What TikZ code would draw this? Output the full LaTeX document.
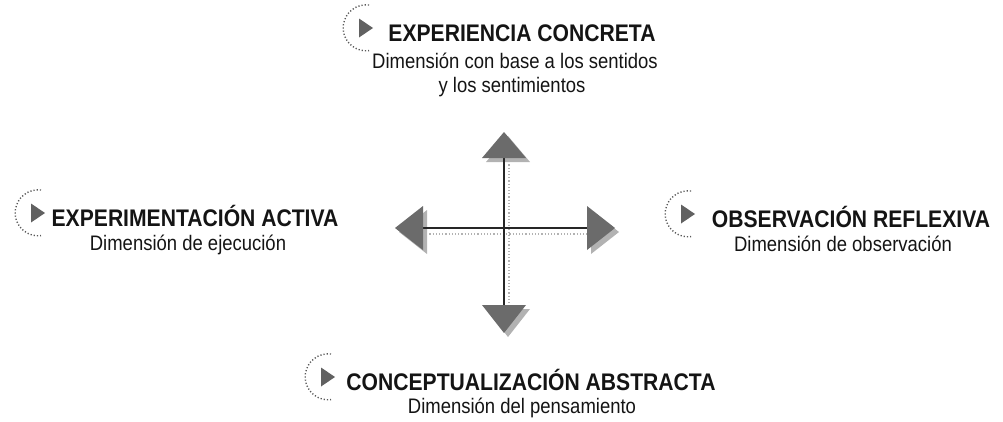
\documentclass[tikz,border=0pt]{standalone}
\usepackage{fontspec}
\setmainfont{Liberation Sans}
\newfontfamily\tfont{Liberation Sans}[FakeStretch=0.88]
\newfontfamily\sfont{Liberation Sans}[FakeStretch=0.88]
\definecolor{headgray}{gray}{0.42}
\definecolor{shadgray}{gray}{0.70}
\tikzset{
  ttl/.style={anchor=base, inner sep=0pt, font=\tfont\bfseries\fontsize{24}{28}\selectfont, text=black!92},
  sub/.style={anchor=base, inner sep=0pt, font=\sfont\fontsize{21}{25}\selectfont, text=black!92},
  axis/.style={draw=black!85, line width=1.1pt},
  shadowline/.style={draw=shadgray, line width=1.2pt, dotted},
  headfill/.style={fill=headgray},
  shadfill/.style={fill=shadgray},
  arcdots/.style={draw=black!65, line width=1.4pt, dash pattern=on 1.2pt off 2pt},
  tri/.style={fill=black!62}
}
\newcommand{\markicon}[2]{%
  \draw[arcdots] (#1+3,#2-23) arc[start angle=-83, end angle=-277, radius=23];
  \fill[tri] (#1-7,#2-9.5) -- (#1+7,#2) -- (#1-7,#2+9.5) -- cycle;
}
\begin{document}
\begin{tikzpicture}[x=1pt,y=-1pt]
\useasboundingbox (0,0) rectangle (1003,421);
% cross
\coordinate (c) at (504,228);
\coordinate (tT) at (504,132);
\coordinate (tB) at (504,333);
\coordinate (tL) at (395,228);
\coordinate (tR) at (615,228);
\coordinate (bT) at (504,158);
\coordinate (bB) at (504,305);
\coordinate (bL) at (423,228);
\coordinate (bR) at (587,228);
% shadows
\draw[shadowline] ([shift={(5,0)}]bT) -- ([shift={(5,0)}]bB);
\draw[shadowline] ([shift={(0,6)}]bL) -- ([shift={(0,6)}]bR);
\fill[shadfill] ([shift={(4,4)}]tT) -- ([shift={(-18,4)}]bT) -- ([shift={(26,4)}]bT) -- cycle;
\fill[shadfill] ([shift={(4,4)}]tB) -- ([shift={(-18,4)}]bB) -- ([shift={(26,4)}]bB) -- cycle;
\fill[shadfill] ([shift={(4,4)}]tL) -- ([shift={(4,-18)}]bL) -- ([shift={(4,26)}]bL) -- cycle;
\fill[shadfill] ([shift={(4,4)}]tR) -- ([shift={(4,-18)}]bR) -- ([shift={(4,26)}]bR) -- cycle;
% axes
\draw[axis] (bT) -- (bB);
\draw[axis] (bL) -- (bR);
\fill[headfill] (tT) -- ([shift={(-22,0)}]bT) -- ([shift={(22,0)}]bT) -- cycle;
\fill[headfill] (tB) -- ([shift={(-22,0)}]bB) -- ([shift={(22,0)}]bB) -- cycle;
\fill[headfill] (tL) -- ([shift={(0,-22)}]bL) -- ([shift={(0,22)}]bL) -- cycle;
\fill[headfill] (tR) -- ([shift={(0,-22)}]bR) -- ([shift={(0,22)}]bR) -- cycle;
% top
\node[ttl] (t1) at (522,41) {EXPERIENCIA CONCRETA};
\node[sub] (t2) at (515,68) {Dimensión con base a los sentidos};
\node[sub] (t3) at (512,92) {y los sentimientos};
\markicon{366}{28}
% left
\node[ttl] (l1) at (195,226) {EXPERIMENTACIÓN ACTIVA};
\node[sub] (l2) at (188,250) {Dimensión de ejecución};
\markicon{38}{213}
% right
\node[ttl] (r1) at (851,227) {OBSERVACIÓN REFLEXIVA};
\node[sub] (r2) at (843,251) {Dimensión de observación};
\markicon{688}{214}
% bottom
\node[ttl] (b1) at (531,390) {CONCEPTUALIZACIÓN ABSTRACTA};
\node[sub] (b2) at (522,413) {Dimensión del pensamiento};
\markicon{328}{377}
\end{tikzpicture}
\end{document}
